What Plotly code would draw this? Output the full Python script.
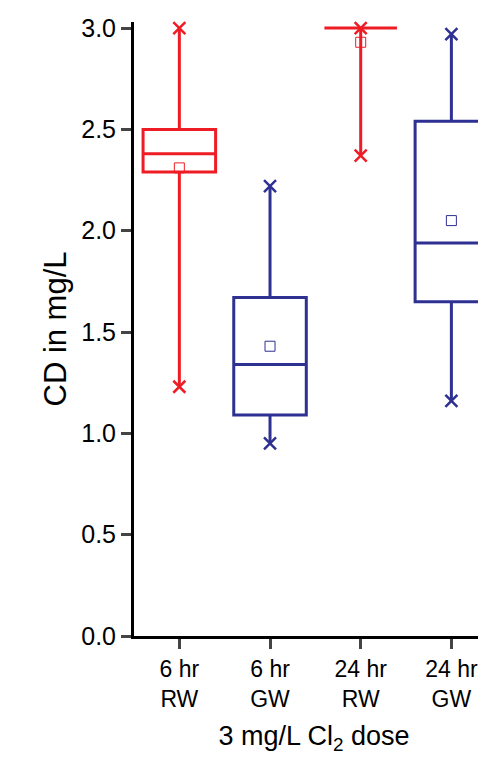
import plotly.graph_objects as go

# box statistics (mg/L)
groups = ["6 hr<br>RW", "6 hr<br>GW", "24 hr<br>RW", "24 hr<br>GW"]
q1 = [2.29, 1.09, 3.0, 1.65]
median = [2.38, 1.34, 3.0, 1.94]
q3 = [2.50, 1.67, 3.0, 2.54]
low = [1.23, 0.95, 2.37, 1.16]
high = [3.0, 2.22, 3.0, 2.97]
mean = [2.31, 1.43, 2.93, 2.05]
colors = ["#ee1c25", "#2e3192", "#ee1c25", "#2e3192"]

xpos = [1, 2, 3, 4]

fig = go.Figure()
for i in range(4):
    fig.add_trace(go.Box(
        x=[xpos[i]], q1=[q1[i]], median=[median[i]], q3=[q3[i]],
        lowerfence=[low[i]], upperfence=[high[i]],
        width=0.8, whiskerwidth=0, fillcolor="rgba(0,0,0,0)",
        line=dict(color=colors[i], width=3), boxpoints=False,
        showlegend=False, hoverinfo="skip"))
    # whisker end markers
    fig.add_trace(go.Scatter(
        x=[xpos[i], xpos[i]], y=[low[i], high[i]], mode="markers",
        marker=dict(symbol="x-thin-open", size=12, color=colors[i],
                    line=dict(color=colors[i], width=2.5)),
        showlegend=False, cliponaxis=False))
    # mean
    fig.add_trace(go.Scatter(
        x=[xpos[i]], y=[mean[i]], mode="markers",
        marker=dict(symbol="square-open", size=10, color=colors[i], line=dict(width=1)),
        showlegend=False, cliponaxis=False))

fig.update_layout(
    width=486, height=763,
    margin=dict(l=126, r=0, t=14, b=135),
    plot_bgcolor="white", paper_bgcolor="white",
    font=dict(family="Liberation Sans, Arial", color="black", size=24),
    xaxis=dict(range=[0.5, 4.47], tickvals=xpos, ticktext=groups,
               showline=True, linecolor="black", linewidth=3,
               ticks="outside", ticklen=10, tickwidth=3, showgrid=False,
               zeroline=False, tickfont=dict(size=23),
               title=dict(text="3 mg/L Cl<sub>2</sub> dose", font=dict(size=27), standoff=16)),
    yaxis=dict(range=[0, 3.03], tickvals=[0, 0.5, 1.0, 1.5, 2.0, 2.5, 3.0],
               ticktext=["0.0", "0.5", "1.0", "1.5", "2.0", "2.5", "3.0"],
               showline=True, linecolor="black", linewidth=3,
               ticks="outside", ticklen=10, tickwidth=3, showgrid=False,
               zeroline=False, tickfont=dict(size=25),
               title=dict(text="CD in mg/L", font=dict(size=31), standoff=6)),
)

fig.write_html("out.html")
